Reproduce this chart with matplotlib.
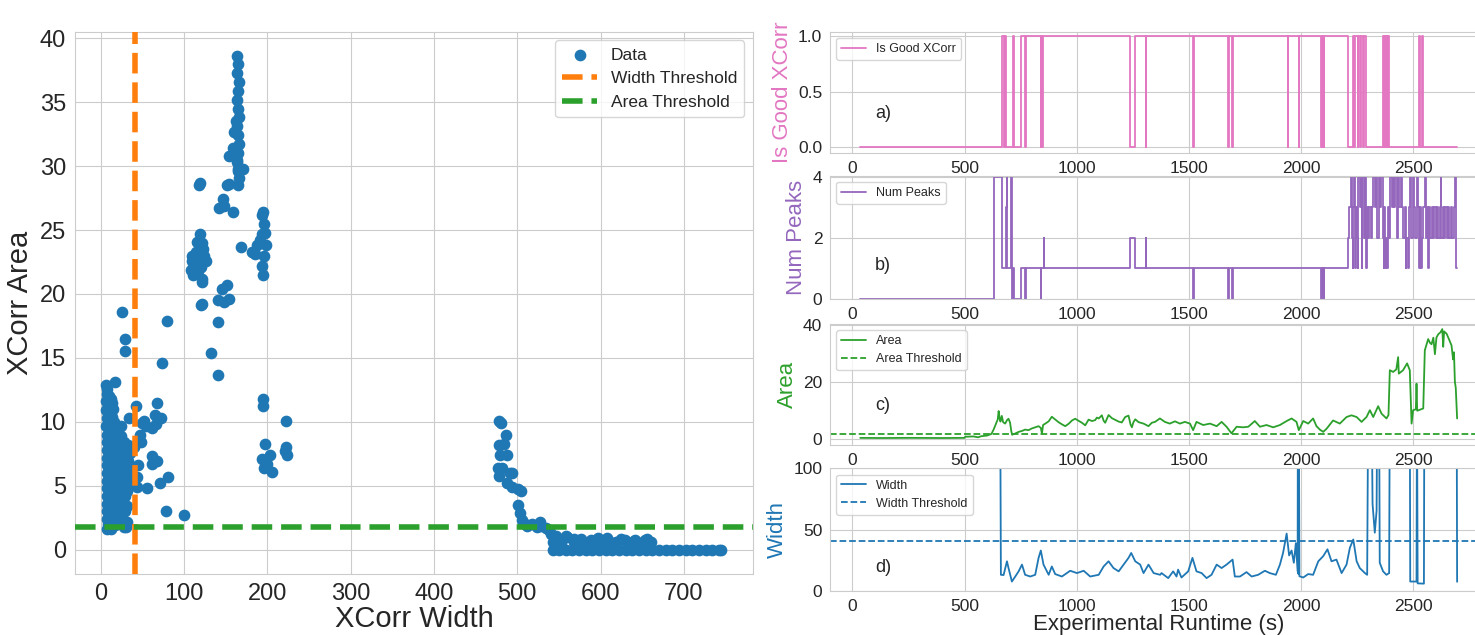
import matplotlib
matplotlib.use("Agg")
import matplotlib.pyplot as plt
import seaborn as sns
import numpy as np

# ---------------- data: scatter (XCorr Width vs XCorr Area) ----------------
blob_w = [6, 8, 7, 10, 6, 12, 9, 14, 6, 11, 15, 7, 13, 10, 16, 6, 20, 24,
          8, 16, 24, 7, 14, 21, 28, 33, 8, 15, 22, 29, 35, 7, 13, 19, 25, 31,
          8, 15, 22, 29, 36, 7, 13, 19, 25, 31, 8, 15, 22, 29, 34, 7, 13, 19,
          25, 31, 8, 15, 22, 29, 7, 13, 19, 25, 32, 8, 15, 22, 29, 7, 13, 19,
          25, 31, 9, 17, 27, 30, 12, 20, 11, 18, 26, 33, 10, 18, 26, 12, 20, 28]
blob_a = [12.9, 12.6, 12.2, 12.0, 11.6, 11.8, 11.3, 11.5, 10.9, 10.8, 11.0,
          10.3, 10.4, 9.9, 10.0, 9.7, 9.6, 9.7,
          9.0, 9.1, 8.9, 8.4, 8.5, 8.3, 8.4, 8.2, 7.8, 7.9, 7.7, 7.8, 7.6,
          7.2, 7.3, 7.1, 7.2, 7.0, 6.6, 6.7, 6.5, 6.6, 6.4, 6.0, 6.1, 5.9,
          6.0, 5.8, 5.4, 5.5, 5.3, 5.4, 5.2, 4.8, 4.9, 4.7, 4.8, 4.6, 4.2,
          4.3, 4.1, 4.2, 3.6, 3.7, 3.5, 3.6, 3.4, 3.0, 3.1, 2.9, 3.0, 2.4,
          2.5, 2.3, 2.4, 2.2, 2.0, 1.9, 2.1, 1.8, 1.6, 2.0, 8.7, 8.1, 7.5,
          6.9, 6.3, 5.1, 3.9, 3.3, 2.7, 4.5]

near_w = [25, 29, 29, 17, 79, 73, 68, 42, 34, 50, 52, 54, 65, 72, 62, 66,
          48, 45, 44, 43, 62, 68, 62, 55, 71, 81, 78, 100, 7, 28, 40, 47]
near_a = [18.6, 16.5, 15.5, 13.1, 17.9, 14.6, 11.5, 11.2, 10.3, 9.9, 10.1,
          9.7, 10.5, 10.3, 9.5, 9.8, 8.4, 6.6, 5.7, 4.9, 7.3, 6.9, 6.7, 4.8,
          5.2, 5.7, 3.0, 2.7, 1.6, 1.8, 8.0, 9.0]

midb_w = [119, 118, 110, 114, 119, 121, 123, 108, 112, 116, 120, 124, 111,
          117, 122, 126, 109, 115, 122, 122, 120, 132, 141, 141, 141, 146,
          152, 148, 154, 142, 147, 148, 152, 154, 159, 154, 159, 160, 162,
          165, 168, 171, 165, 166, 163]
midb_a = [28.7, 28.5, 22.6, 23.3, 24.7, 24.0, 23.5, 21.9, 22.2, 22.8, 22.1,
          23.0, 21.5, 21.8, 21.2, 22.6, 23.0, 24.1, 20.9, 19.2, 19.1, 15.4,
          13.7, 17.8, 19.5, 20.4, 20.7, 19.4, 19.6, 26.7, 27.4, 26.9, 28.5,
          28.6, 26.4, 30.8, 31.4, 32.7, 33.5, 28.5, 23.7, 29.8, 29.8, 29.1,
          30.5]

col_w = [164, 165, 164, 166, 165, 164, 165, 166, 164, 165, 166, 165, 164, 165]
col_a = [38.6, 38.0, 37.3, 36.6, 35.9, 35.2, 34.5, 33.8, 33.1, 32.4, 31.7,
         31.0, 30.3, 29.6]

c200_w = [195, 193, 185, 188, 191, 194, 197, 198, 196, 194, 195, 182, 196,
          195, 195, 197, 194, 196, 200, 203, 205, 222, 222, 224, 221]
c200_a = [26.4, 26.2, 23.1, 23.8, 24.2, 24.7, 24.8, 23.8, 23.0, 22.2, 21.5,
          23.3, 25.5, 11.8, 11.2, 8.3, 7.1, 6.4, 6.7, 7.4, 6.1, 10.1, 8.0,
          7.4, 7.7]

tail_w = [478, 480, 487, 478, 484, 479, 488, 477, 482, 478, 491, 494, 488,
          494, 501, 504, 501, 503, 506, 509, 512, 518, 524, 527, 529, 535,
          538, 541, 543, 547, 559, 568, 576, 588, 597, 606, 618, 629, 641,
          653, 659]
tail_a = [10.1, 9.9, 9.0, 8.2, 8.3, 7.4, 7.4, 6.4, 6.4, 5.8, 6.0, 6.0, 5.2,
          4.9, 4.75, 4.6, 3.5, 2.9, 2.3, 2.0, 1.85, 2.0, 1.8, 2.15, 1.85,
          1.7, 1.55, 1.2, 0.6, 1.1, 1.1, 0.8, 0.6, 0.77, 0.9, 0.77, 0.6,
          0.77, 0.77, 0.77, 0.6]

band_w = [545, 552, 560, 568, 576, 584, 592, 600, 608, 616, 624, 632, 640,
          648, 656, 660]
band_a = [0.9, 0.5, 1.0, 0.6, 0.8, 0.4, 0.7, 0.6, 0.9, 0.5, 0.8, 0.6, 0.7,
          0.5, 0.8, 0.6]

zero_w = [543, 550, 558, 566, 574, 582, 590, 598, 606, 614, 622, 630, 638,
          646, 654, 662, 670, 678, 686, 694, 702, 710, 718, 726, 734, 742, 745]
zero_a = [0.0, 0.0, 0.0, 0.0, 0.0, 0.0, 0.0, 0.0, 0.0, 0.0, 0.0, 0.0, 0.0,
          0.0, 0.0, 0.0, 0.0, 0.0, 0.0, 0.0, 0.0, 0.0, 0.0, 0.0, 0.0, 0.0, 0.0]

width_threshold = 41
area_threshold = 1.8

# ---------------- data: time series ----------------
good_t = [34, 665, 676, 680, 684, 717, 720, 751, 770, 773, 839, 843, 846, 850,
          1237, 1262, 1307, 1310, 1519, 1522, 1675, 1680, 1693, 1697, 1940,
          1943, 1989, 1992, 2089, 2092, 2095, 2098, 2101, 2104, 2210, 2230,
          2238, 2241, 2252, 2256, 2262, 2266, 2276, 2279, 2288, 2366, 2369,
          2372, 2375, 2378, 2381, 2384, 2387, 2390, 2393, 2527, 2531, 2541,
          2545, 2696]
good_v = [0, 1, 0, 1, 0, 1, 0, 1, 0, 1, 0, 1, 0, 1,
          0, 1, 0, 1, 0, 1, 0, 1, 0, 1, 0,
          1, 0, 1, 0, 1, 0, 1, 0, 1, 0, 1,
          0, 1, 0, 1, 0, 1, 0, 1, 0, 1, 0,
          1, 0, 1, 0, 1, 0, 1, 0, 1, 0, 1,
          0, 0]

peaks_t = [34, 631, 665, 684, 688, 690, 705, 710, 717, 720, 750, 769, 773,
           839, 843, 852, 856, 1237, 1262, 1307, 1310, 1519, 1522, 1675, 1680,
           1693, 1697, 2089, 2092, 2095, 2098, 2101, 2104,
           2210, 2216, 2222, 2226, 2230, 2234, 2238, 2241, 2245, 2249, 2253,
           2256, 2262, 2266, 2270, 2274, 2280, 2284, 2288, 2292, 2298, 2304,
           2310, 2316, 2322, 2328, 2334, 2340, 2346, 2352, 2358, 2364, 2368,
           2372, 2376, 2380, 2384, 2388, 2394, 2398, 2404, 2408, 2414, 2420,
           2426, 2432, 2438, 2444, 2450, 2456, 2462, 2466, 2470, 2476, 2480,
           2486, 2492, 2498, 2504, 2510, 2516, 2522, 2528, 2532, 2536, 2540,
           2546, 2552, 2556, 2562, 2566, 2570, 2576, 2582, 2588, 2594, 2600,
           2606, 2612, 2618, 2622, 2626, 2632, 2638, 2644, 2650, 2656, 2662,
           2668, 2674, 2680, 2686, 2690, 2696]
peaks_v = [0, 4, 1, 3, 4, 1, 4, 0, 1, 0, 1, 0, 1,
           0, 1, 2, 1, 2, 1, 2, 1, 0, 1, 0, 1,
           0, 1, 0, 1, 0, 1, 0, 1,
           2, 3, 4, 2, 1, 3, 4, 1, 3, 2, 1,
           4, 3, 4, 1, 4, 2, 4, 1, 3, 2, 3,
           2, 3, 4, 3, 4, 2, 4, 3, 4, 2, 1,
           3, 1, 2, 1, 3, 2, 4, 3, 4, 3, 4,
           2, 4, 3, 4, 3, 2, 3, 1, 2, 1, 3,
           4, 2, 4, 3, 2, 4, 3, 1, 3, 1, 2,
           3, 4, 2, 3, 1, 3, 2, 3, 2, 3, 2,
           3, 2, 3, 4, 2, 3, 2, 3, 2, 3, 2,
           3, 2, 3, 4, 1, 1]

area_t = [35, 120, 250, 400, 500, 503, 540, 560, 575, 600, 620, 630, 640, 648,
          652, 656, 660, 666, 672, 681, 690, 696, 703, 708, 712, 725, 741, 755,
          770, 785, 800, 815, 830, 840, 845, 850, 862, 875, 889, 900, 919, 935,
          949, 965, 979, 993, 1008, 1023, 1038, 1053, 1068, 1082, 1090, 1098,
          1112, 1120, 1127, 1135, 1142, 1157, 1172, 1187, 1201, 1216, 1231,
          1240, 1246, 1253, 1261, 1276, 1298, 1320, 1335, 1349, 1371, 1393,
          1415, 1438, 1460, 1482, 1505, 1519, 1534, 1564, 1594, 1624, 1646,
          1668, 1690, 1713, 1742, 1765, 1794, 1817, 1846, 1876, 1906, 1936,
          1958, 1980, 1990, 2010, 2032, 2054, 2069, 2084, 2099, 2114, 2143,
          2173, 2203, 2225, 2248, 2270, 2292, 2307, 2322, 2344, 2359, 2381,
          2390, 2396, 2411, 2425, 2433, 2436, 2455, 2473, 2485, 2490, 2493,
          2500, 2512, 2515, 2518, 2545, 2552, 2567, 2575, 2582, 2590, 2597,
          2604, 2612, 2622, 2630, 2634, 2638, 2649, 2660, 2671, 2678, 2682,
          2686, 2690, 2696]
area_v = [0.5, 0.45, 0.5, 0.45, 0.5, 0.9, 1.0, 0.7, 1.1, 1.3, 1.9, 3.5, 5.5, 7.0,
          9.9, 7.5, 6.2, 8.2, 6.0, 5.5, 6.8, 7.2, 5.8, 3.0, 1.6, 2.0, 2.6, 2.9,
          3.4, 3.2, 3.8, 4.2, 4.6, 4.0, 2.0, 5.0, 5.6, 6.3, 7.9, 7.2, 6.0, 5.2,
          4.6, 5.5, 6.6, 7.2, 6.5, 5.8, 4.9, 6.9, 6.4, 6.7, 7.6, 7.3,
          8.4, 6.5, 5.8, 7.2, 8.5, 7.4, 6.8, 6.2, 5.9, 7.8, 8.3,
          5.2, 4.2, 6.0, 7.0, 6.0, 5.5, 4.6, 5.8, 6.1, 7.3, 6.1,
          5.5, 6.3, 5.5, 6.1, 5.5, 3.2, 6.1, 5.0, 5.5, 4.6, 6.1,
          4.4, 2.1, 4.4, 4.2, 4.4, 6.4, 4.4, 5.0, 4.2, 5.0, 6.4,
          7.3, 6.1, 3.2, 6.4, 5.5, 7.3, 4.6, 3.4, 2.6, 3.7, 6.6,
          5.5, 7.8, 8.4, 7.8, 6.1, 7.8, 10.2, 7.8, 11.6, 9.0, 7.3,
          8.5, 24.2, 23.6, 24.5, 28.8, 23.0, 24.2, 26.6, 24.2, 12.0, 5.5,
          10.2, 10.5, 19.5, 10.0, 10.8, 31.2, 35.1, 33.8, 33.3, 35.6, 29.8,
          35.7, 36.8, 37.5, 38.6, 32.4, 37.8, 37.0, 35.0, 32.9, 28.0, 30.5,
          20.2, 18.0, 7.3]

width_t = [35, 120, 200, 300, 400, 480, 540, 600, 640, 655, 659, 662, 674, 689,
           696, 711, 726, 741, 756, 770, 793, 815, 830, 840, 852, 875, 889,
           904, 934, 971, 1001, 1031, 1060, 1098, 1120, 1142, 1164, 1187, 1209,
           1231, 1243, 1261, 1283, 1298, 1320, 1343, 1372, 1378, 1408, 1430,
           1445, 1452, 1467, 1497, 1516, 1534, 1557, 1579, 1601, 1624, 1646,
           1668, 1695, 1705, 1728, 1757, 1780, 1809, 1839, 1861, 1888, 1906,
           1920, 1936, 1947, 1958, 1968, 1977, 1985, 1986, 1988, 1990, 1993,
           2010, 2032, 2054, 2077, 2099, 2118, 2136, 2158, 2181, 2203, 2218,
           2233, 2248, 2262, 2285, 2295, 2300, 2315, 2319, 2329, 2337, 2340,
           2344, 2348, 2351, 2366, 2381, 2393, 2396, 2485, 2487, 2515, 2517,
           2520, 2548, 2550, 2694, 2696]
width_v = [745, 720, 700, 670, 640, 600, 560, 530, 505, 480, 150, 13.2, 13.0,
           24.2, 18.7, 7.7, 11.8, 16, 21.5, 13.2, 11.8, 13.2, 27, 33, 21.5,
           13.2, 20, 13.8, 11.8, 16.5, 14.6, 16.5, 11.8, 13.2, 20, 24.2, 18.7,
           16, 21.5, 27, 31, 24.2, 21.5, 14.6, 21.5, 14.6, 13.2, 14.6, 10.5,
           16, 11.8, 17.4, 11, 16, 27, 16, 14.6, 10.5, 13.2, 21.5, 18.7, 21.5,
           25.6, 11.8, 11.8, 15.4, 11.8, 13.2, 16.5, 14.6, 13.2, 21.5, 31,
           46.8, 29, 33, 23, 39, 16, 160, 14, 170, 12, 11, 13.8, 13.2, 24.2,
           28.4, 34, 24.2, 25.6, 14.6, 21.5, 35.3, 42, 24.2, 18.7, 14.6, 13.2,
           170, 150, 71, 47.5, 65.6, 160, 155, 160, 23, 16, 13.2, 14.6, 165,
           160, 7.7, 7.7, 165, 6.2, 6.0, 165, 160, 7.5]

panel_letters = ["a)", "b)", "c)", "d)"]

# ---------------- style ----------------
sns.set_style("whitegrid")
plt.rcParams["font.family"] = ["Liberation Sans", "DejaVu Sans"]

fig = plt.figure(figsize=(14.75, 6.35), dpi=100)

# ---------------- left scatter ----------------
ax0 = fig.add_axes([0.0508, 0.0961, 0.4597, 0.8538])
sc_w = blob_w + near_w + midb_w + col_w + c200_w + tail_w + band_w + zero_w
sc_a = blob_a + near_a + midb_a + col_a + c200_a + tail_a + band_a + zero_a
ax0.scatter(sc_w, sc_a, s=55, color="#1f77b4", label="Data", zorder=2)
ax0.axvline(width_threshold, color="#ff7f0e", ls="--", lw=4, label="Width Threshold", zorder=3)
ax0.axhline(area_threshold, color="#2ca02c", ls="--", lw=4, label="Area Threshold", zorder=3)
ax0.set_xlim(-31, 783)
ax0.set_ylim(-1.9, 40.5)
ax0.set_xticks([0, 100, 200, 300, 400, 500, 600, 700])
ax0.set_yticks([0, 5, 10, 15, 20, 25, 30, 35, 40])
ax0.tick_params(labelsize=17, pad=3)
ax0.set_xlabel("XCorr Width", fontsize=21, labelpad=0)
ax0.set_ylabel("XCorr Area", fontsize=21, labelpad=4)
ax0.legend(loc="upper right", fontsize=12.5)

# ---------------- right panels ----------------
X0, W = 0.5627, 0.4454
pos = [(0.7586, 0.1915), (0.5291, 0.1942), (0.2992, 0.1906), (0.0693, 0.1932)]
axs = [fig.add_axes([X0, b, W, h]) for b, h in pos]
xlim = (-100, 2829)
xt = [0, 500, 1000, 1500, 2000, 2500]

ax = axs[0]
ax.plot(good_t, good_v, color="#e377c2", lw=1.3, drawstyle="steps-post", label="Is Good XCorr")
ax.set_ylim(-0.054, 1.04)
ax.set_yticks([0.0, 0.5, 1.0])
ax.set_ylabel("Is Good XCorr", color="#e377c2", fontsize=16)
ax.text(100, 0.3, panel_letters[0], fontsize=13, va="center")

ax = axs[1]
ax.plot(peaks_t, peaks_v, color="#9467bd", lw=1.3, drawstyle="steps-post", label="Num Peaks")
ax.set_ylim(0, 4.03)
ax.set_yticks([0, 2, 4])
ax.set_ylabel("Num Peaks", color="#9467bd", fontsize=16)
ax.text(100, 1.1, panel_letters[1], fontsize=13, va="center")

ax = axs[2]
ax.plot(area_t, area_v, color="#2ca02c", lw=1.3, label="Area")
ax.axhline(area_threshold, color="#2ca02c", ls="--", lw=1.3, label="Area Threshold")
ax.set_ylim(-2.0, 40.4)
ax.set_yticks([0, 20, 40])
ax.set_ylabel("Area", color="#2ca02c", fontsize=16)
ax.text(100, 12, panel_letters[2], fontsize=13, va="center")

ax = axs[3]
ax.plot(width_t, width_v, color="#1f77b4", lw=1.3, label="Width")
ax.axhline(width_threshold, color="#1f77b4", ls="--", lw=1.3, label="Width Threshold")
ax.set_ylim(0, 100)
ax.set_yticks([0, 50, 100])
ax.set_ylabel("Width", color="#1f77b4", fontsize=16)
ax.set_xlabel("Experimental Runtime (s)", fontsize=16, labelpad=0)
ax.text(100, 19, panel_letters[3], fontsize=13, va="center")

for ax in axs:
    ax.set_xlim(*xlim)
    ax.set_xticks(xt)
    ax.tick_params(labelsize=12.5, pad=2)
    ax.legend(loc="upper left", fontsize=9)

fig.savefig("out.png", dpi=100)
